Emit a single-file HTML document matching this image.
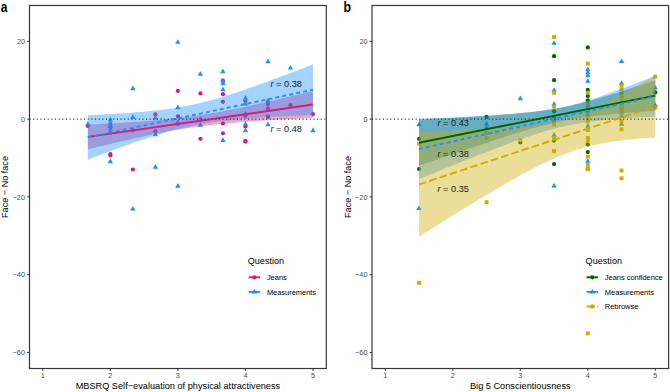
<!DOCTYPE html>
<html><head><meta charset="utf-8"><style>
html,body{margin:0;padding:0;background:#fff;}
body{width:670px;height:392px;overflow:hidden;}
svg{display:block;font-family:"Liberation Sans",sans-serif;}
</style></head><body>
<svg width="670" height="392" viewBox="0 0 670 392">
<rect width="670" height="392" fill="#fff"/>

<circle cx="87.83" cy="125.90" r="2.12" fill="#D61C76"/>
<circle cx="110.35" cy="126.80" r="2.12" fill="#D61C76"/>
<circle cx="110.35" cy="132.80" r="2.12" fill="#D61C76"/>
<circle cx="110.35" cy="154.10" r="2.12" fill="#D61C76"/>
<circle cx="110.35" cy="155.50" r="2.12" fill="#D61C76"/>
<circle cx="132.87" cy="130.10" r="2.12" fill="#D61C76"/>
<circle cx="132.87" cy="169.50" r="2.12" fill="#D61C76"/>
<circle cx="155.38" cy="114.40" r="2.12" fill="#D61C76"/>
<circle cx="155.38" cy="131.20" r="2.12" fill="#D61C76"/>
<circle cx="177.90" cy="90.90" r="2.12" fill="#D61C76"/>
<circle cx="177.90" cy="116.30" r="2.12" fill="#D61C76"/>
<circle cx="177.90" cy="123.80" r="2.12" fill="#D61C76"/>
<circle cx="200.42" cy="93.40" r="2.12" fill="#D61C76"/>
<circle cx="200.42" cy="138.80" r="2.12" fill="#D61C76"/>
<circle cx="222.93" cy="80.60" r="2.12" fill="#D61C76"/>
<circle cx="222.93" cy="94.20" r="2.12" fill="#D61C76"/>
<circle cx="222.93" cy="101.80" r="2.12" fill="#D61C76"/>
<circle cx="222.93" cy="123.50" r="2.12" fill="#D61C76"/>
<circle cx="222.93" cy="133.30" r="2.12" fill="#D61C76"/>
<circle cx="245.45" cy="101.00" r="2.12" fill="#D61C76"/>
<circle cx="245.45" cy="115.80" r="2.12" fill="#D61C76"/>
<circle cx="245.45" cy="126.50" r="2.12" fill="#D61C76"/>
<circle cx="245.45" cy="140.90" r="2.12" fill="#D61C76"/>
<circle cx="245.45" cy="141.70" r="2.12" fill="#D61C76"/>
<circle cx="267.97" cy="104.10" r="2.12" fill="#D61C76"/>
<circle cx="267.97" cy="108.60" r="2.12" fill="#D61C76"/>
<circle cx="267.97" cy="116.70" r="2.12" fill="#D61C76"/>
<circle cx="290.48" cy="105.20" r="2.12" fill="#D61C76"/>
<circle cx="313.00" cy="114.10" r="2.12" fill="#D61C76"/>
<path d="M87.83,121.19 L90.53,125.86 L85.14,125.86 Z" fill="#1E90FF"/>
<path d="M110.35,116.79 L113.04,121.46 L107.66,121.46 Z" fill="#1E90FF"/>
<path d="M110.35,120.09 L113.04,124.76 L107.66,124.76 Z" fill="#1E90FF"/>
<path d="M110.35,123.09 L113.04,127.76 L107.66,127.76 Z" fill="#1E90FF"/>
<path d="M110.35,126.09 L113.04,130.76 L107.66,130.76 Z" fill="#1E90FF"/>
<path d="M110.35,158.59 L113.04,163.26 L107.66,163.26 Z" fill="#1E90FF"/>
<path d="M132.87,85.59 L135.56,90.26 L130.17,90.26 Z" fill="#1E90FF"/>
<path d="M132.87,114.09 L135.56,118.76 L130.17,118.76 Z" fill="#1E90FF"/>
<path d="M132.87,205.89 L135.56,210.56 L130.17,210.56 Z" fill="#1E90FF"/>
<path d="M155.38,114.89 L158.08,119.56 L152.69,119.56 Z" fill="#1E90FF"/>
<path d="M155.38,131.59 L158.08,136.26 L152.69,136.26 Z" fill="#1E90FF"/>
<path d="M155.38,164.09 L158.08,168.76 L152.69,168.76 Z" fill="#1E90FF"/>
<path d="M177.90,39.19 L180.59,43.86 L175.21,43.86 Z" fill="#1E90FF"/>
<path d="M177.90,104.59 L180.59,109.26 L175.21,109.26 Z" fill="#1E90FF"/>
<path d="M177.90,119.09 L180.59,123.76 L175.21,123.76 Z" fill="#1E90FF"/>
<path d="M177.90,183.09 L180.59,187.76 L175.21,187.76 Z" fill="#1E90FF"/>
<path d="M200.42,71.09 L203.11,75.76 L197.72,75.76 Z" fill="#1E90FF"/>
<path d="M200.42,115.89 L203.11,120.56 L197.72,120.56 Z" fill="#1E90FF"/>
<path d="M200.42,122.09 L203.11,126.76 L197.72,126.76 Z" fill="#1E90FF"/>
<path d="M222.93,68.49 L225.63,73.16 L220.24,73.16 Z" fill="#1E90FF"/>
<path d="M222.93,78.09 L225.63,82.76 L220.24,82.76 Z" fill="#1E90FF"/>
<path d="M222.93,80.59 L225.63,85.26 L220.24,85.26 Z" fill="#1E90FF"/>
<path d="M222.93,86.59 L225.63,91.26 L220.24,91.26 Z" fill="#1E90FF"/>
<path d="M222.93,137.29 L225.63,141.96 L220.24,141.96 Z" fill="#1E90FF"/>
<path d="M245.45,95.09 L248.14,99.76 L242.76,99.76 Z" fill="#1E90FF"/>
<path d="M245.45,100.89 L248.14,105.56 L242.76,105.56 Z" fill="#1E90FF"/>
<path d="M245.45,110.79 L248.14,115.46 L242.76,115.46 Z" fill="#1E90FF"/>
<path d="M245.45,121.09 L248.14,125.76 L242.76,125.76 Z" fill="#1E90FF"/>
<path d="M245.45,127.59 L248.14,132.26 L242.76,132.26 Z" fill="#1E90FF"/>
<path d="M267.97,58.59 L270.66,63.26 L265.27,63.26 Z" fill="#1E90FF"/>
<path d="M267.97,97.79 L270.66,102.46 L265.27,102.46 Z" fill="#1E90FF"/>
<path d="M267.97,121.59 L270.66,126.26 L265.27,126.26 Z" fill="#1E90FF"/>
<path d="M290.48,64.89 L293.18,69.56 L287.79,69.56 Z" fill="#1E90FF"/>
<path d="M313.00,127.59 L315.69,132.26 L310.31,132.26 Z" fill="#1E90FF"/>
<path d="M87.83,124.61 L91.59,124.41 L95.34,124.21 L99.09,124.01 L102.84,123.81 L106.60,123.60 L110.35,123.39 L114.10,123.17 L117.86,122.95 L121.61,122.72 L125.36,122.49 L129.11,122.26 L132.87,122.01 L136.62,121.76 L140.37,121.50 L144.12,121.23 L147.88,120.95 L151.63,120.66 L155.38,120.36 L159.14,120.04 L162.89,119.70 L166.64,119.35 L170.39,118.98 L174.15,118.59 L177.90,118.18 L181.65,117.74 L185.41,117.28 L189.16,116.80 L192.91,116.28 L196.66,115.74 L200.42,115.18 L204.17,114.58 L207.92,113.96 L211.68,113.32 L215.43,112.65 L219.18,111.96 L222.93,111.24 L226.69,110.51 L230.44,109.77 L234.19,109.00 L237.94,108.23 L241.70,107.44 L245.45,106.64 L249.20,105.82 L252.96,105.00 L256.71,104.17 L260.46,103.34 L264.21,102.49 L267.97,101.64 L271.72,100.79 L275.47,99.93 L279.22,99.06 L282.98,98.19 L286.73,97.32 L290.48,96.44 L294.24,95.56 L297.99,94.68 L301.74,93.80 L305.49,92.91 L309.25,92.02 L313.00,91.13 L313.00,117.81 L309.25,117.99 L305.49,118.19 L301.74,118.38 L297.99,118.58 L294.24,118.77 L290.48,118.98 L286.73,119.18 L282.98,119.39 L279.22,119.60 L275.47,119.82 L271.72,120.04 L267.97,120.26 L264.21,120.50 L260.46,120.73 L256.71,120.98 L252.96,121.23 L249.20,121.49 L245.45,121.76 L241.70,122.04 L237.94,122.33 L234.19,122.63 L230.44,122.95 L226.69,123.28 L222.93,123.64 L219.18,124.01 L215.43,124.40 L211.68,124.81 L207.92,125.24 L204.17,125.70 L200.42,126.19 L196.66,126.70 L192.91,127.25 L189.16,127.81 L185.41,128.41 L181.65,129.03 L177.90,129.67 L174.15,130.34 L170.39,131.03 L166.64,131.74 L162.89,132.47 L159.14,133.22 L155.38,133.98 L151.63,134.76 L147.88,135.55 L144.12,136.35 L140.37,137.16 L136.62,137.99 L132.87,138.81 L129.11,139.65 L125.36,140.50 L121.61,141.35 L117.86,142.20 L114.10,143.06 L110.35,143.93 L106.60,144.80 L102.84,145.67 L99.09,146.54 L95.34,147.42 L91.59,148.31 L87.83,149.19 Z" fill="#D61C76" fill-opacity="0.4"/>
<path d="M87.83,115.15 L91.59,114.99 L95.34,114.81 L99.09,114.63 L102.84,114.44 L106.60,114.25 L110.35,114.05 L114.10,113.84 L117.86,113.62 L121.61,113.39 L125.36,113.14 L129.11,112.89 L132.87,112.62 L136.62,112.33 L140.37,112.03 L144.12,111.71 L147.88,111.37 L151.63,111.00 L155.38,110.61 L159.14,110.19 L162.89,109.74 L166.64,109.26 L170.39,108.73 L174.15,108.17 L177.90,107.57 L181.65,106.92 L185.41,106.23 L189.16,105.49 L192.91,104.70 L196.66,103.86 L200.42,102.97 L204.17,102.04 L207.92,101.06 L211.68,100.05 L215.43,98.99 L219.18,97.89 L222.93,96.76 L226.69,95.59 L230.44,94.40 L234.19,93.18 L237.94,91.94 L241.70,90.68 L245.45,89.40 L249.20,88.09 L252.96,86.78 L256.71,85.45 L260.46,84.10 L264.21,82.75 L267.97,81.38 L271.72,80.00 L275.47,78.62 L279.22,77.22 L282.98,75.82 L286.73,74.42 L290.48,73.00 L294.24,71.59 L297.99,70.16 L301.74,68.73 L305.49,67.30 L309.25,65.86 L313.00,64.42 L313.00,115.04 L309.25,115.19 L305.49,115.34 L301.74,115.50 L297.99,115.66 L294.24,115.83 L290.48,116.00 L286.73,116.17 L282.98,116.35 L279.22,116.54 L275.47,116.74 L271.72,116.94 L267.97,117.15 L264.21,117.38 L260.46,117.61 L256.71,117.85 L252.96,118.11 L249.20,118.38 L245.45,118.67 L241.70,118.98 L237.94,119.30 L234.19,119.65 L230.44,120.02 L226.69,120.42 L222.93,120.84 L219.18,121.30 L215.43,121.79 L211.68,122.32 L207.92,122.89 L204.17,123.50 L200.42,124.16 L196.66,124.86 L192.91,125.61 L189.16,126.41 L185.41,127.26 L181.65,128.16 L177.90,129.10 L174.15,130.08 L170.39,131.11 L166.64,132.18 L162.89,133.28 L159.14,134.42 L155.38,135.59 L151.63,136.79 L147.88,138.01 L144.12,139.26 L140.37,140.52 L136.62,141.81 L132.87,143.11 L129.11,144.43 L125.36,145.77 L121.61,147.11 L117.86,148.47 L114.10,149.84 L110.35,151.22 L106.60,152.61 L102.84,154.00 L99.09,155.40 L95.34,156.81 L91.59,158.23 L87.83,159.65 Z" fill="#1E90FF" fill-opacity="0.4"/>
<line x1="29.5" y1="119.1" x2="326" y2="119.1" stroke="#333" stroke-width="1.1" stroke-dasharray="1.1 2.54"/>
<path d="M87.83,136.90 L313.00,104.47" stroke="#D61C76" stroke-width="1.9" fill="none"/>
<path d="M87.83,137.40 L313.00,89.73" stroke="#1E90FF" stroke-width="1.9" fill="none" stroke-dasharray="3.9 3.2"/>
<circle cx="419.05" cy="138.80" r="2.12" fill="#006400"/>
<circle cx="419.05" cy="169.00" r="2.12" fill="#006400"/>
<circle cx="486.55" cy="116.90" r="2.12" fill="#006400"/>
<circle cx="520.30" cy="142.50" r="2.12" fill="#006400"/>
<circle cx="554.05" cy="56.20" r="2.12" fill="#006400"/>
<circle cx="554.05" cy="80.20" r="2.12" fill="#006400"/>
<circle cx="554.05" cy="111.30" r="2.12" fill="#006400"/>
<circle cx="554.05" cy="140.60" r="2.12" fill="#006400"/>
<circle cx="554.05" cy="164.10" r="2.12" fill="#006400"/>
<circle cx="554.05" cy="118.20" r="2.12" fill="#006400"/>
<circle cx="587.80" cy="47.40" r="2.12" fill="#006400"/>
<circle cx="587.80" cy="89.90" r="2.12" fill="#006400"/>
<circle cx="587.80" cy="96.00" r="2.12" fill="#006400"/>
<circle cx="587.80" cy="100.30" r="2.12" fill="#006400"/>
<circle cx="587.80" cy="144.40" r="2.12" fill="#006400"/>
<circle cx="587.80" cy="152.10" r="2.12" fill="#006400"/>
<circle cx="655.30" cy="92.40" r="2.12" fill="#006400"/>
<path d="M419.05,121.59 L421.74,126.26 L416.36,126.26 Z" fill="#1E90FF"/>
<path d="M419.05,205.39 L421.74,210.06 L416.36,210.06 Z" fill="#1E90FF"/>
<path d="M486.55,121.09 L489.24,125.76 L483.86,125.76 Z" fill="#1E90FF"/>
<path d="M486.55,124.59 L489.24,129.26 L483.86,129.26 Z" fill="#1E90FF"/>
<path d="M520.30,95.59 L522.99,100.26 L517.61,100.26 Z" fill="#1E90FF"/>
<path d="M554.05,40.19 L556.74,44.86 L551.36,44.86 Z" fill="#1E90FF"/>
<path d="M554.05,87.29 L556.74,91.96 L551.36,91.96 Z" fill="#1E90FF"/>
<path d="M554.05,101.09 L556.74,105.76 L551.36,105.76 Z" fill="#1E90FF"/>
<path d="M554.05,115.59 L556.74,120.26 L551.36,120.26 Z" fill="#1E90FF"/>
<path d="M554.05,132.09 L556.74,136.76 L551.36,136.76 Z" fill="#1E90FF"/>
<path d="M554.05,182.79 L556.74,187.46 L551.36,187.46 Z" fill="#1E90FF"/>
<path d="M587.80,66.49 L590.49,71.16 L585.11,71.16 Z" fill="#1E90FF"/>
<path d="M587.80,69.59 L590.49,74.26 L585.11,74.26 Z" fill="#1E90FF"/>
<path d="M587.80,72.59 L590.49,77.26 L585.11,77.26 Z" fill="#1E90FF"/>
<path d="M587.80,78.09 L590.49,82.76 L585.11,82.76 Z" fill="#1E90FF"/>
<path d="M587.80,108.09 L590.49,112.76 L585.11,112.76 Z" fill="#1E90FF"/>
<path d="M587.80,111.59 L590.49,116.26 L585.11,116.26 Z" fill="#1E90FF"/>
<path d="M587.80,123.09 L590.49,127.76 L585.11,127.76 Z" fill="#1E90FF"/>
<path d="M587.80,158.19 L590.49,162.86 L585.11,162.86 Z" fill="#1E90FF"/>
<path d="M587.80,165.09 L590.49,169.76 L585.11,169.76 Z" fill="#1E90FF"/>
<path d="M621.55,58.39 L624.24,63.06 L618.86,63.06 Z" fill="#1E90FF"/>
<path d="M621.55,80.29 L624.24,84.96 L618.86,84.96 Z" fill="#1E90FF"/>
<path d="M621.55,113.09 L624.24,117.76 L618.86,117.76 Z" fill="#1E90FF"/>
<path d="M621.55,121.09 L624.24,125.76 L618.86,125.76 Z" fill="#1E90FF"/>
<path d="M655.30,84.89 L657.99,89.56 L652.61,89.56 Z" fill="#1E90FF"/>
<path d="M655.30,102.19 L657.99,106.86 L652.61,106.86 Z" fill="#1E90FF"/>
<rect x="417.10" y="141.75" width="3.9" height="3.9" fill="#CDAD00"/>
<rect x="417.10" y="280.85" width="3.9" height="3.9" fill="#CDAD00"/>
<rect x="484.60" y="131.05" width="3.9" height="3.9" fill="#CDAD00"/>
<rect x="484.60" y="136.05" width="3.9" height="3.9" fill="#CDAD00"/>
<rect x="484.60" y="200.25" width="3.9" height="3.9" fill="#CDAD00"/>
<rect x="518.35" y="138.25" width="3.9" height="3.9" fill="#CDAD00"/>
<rect x="552.10" y="35.15" width="3.9" height="3.9" fill="#CDAD00"/>
<rect x="552.10" y="90.75" width="3.9" height="3.9" fill="#CDAD00"/>
<rect x="552.10" y="104.75" width="3.9" height="3.9" fill="#CDAD00"/>
<rect x="552.10" y="120.05" width="3.9" height="3.9" fill="#CDAD00"/>
<rect x="552.10" y="122.55" width="3.9" height="3.9" fill="#CDAD00"/>
<rect x="552.10" y="136.35" width="3.9" height="3.9" fill="#CDAD00"/>
<rect x="552.10" y="149.15" width="3.9" height="3.9" fill="#CDAD00"/>
<rect x="585.85" y="61.65" width="3.9" height="3.9" fill="#CDAD00"/>
<rect x="585.85" y="90.75" width="3.9" height="3.9" fill="#CDAD00"/>
<rect x="585.85" y="101.55" width="3.9" height="3.9" fill="#CDAD00"/>
<rect x="585.85" y="105.05" width="3.9" height="3.9" fill="#CDAD00"/>
<rect x="585.85" y="116.05" width="3.9" height="3.9" fill="#CDAD00"/>
<rect x="585.85" y="119.55" width="3.9" height="3.9" fill="#CDAD00"/>
<rect x="585.85" y="128.15" width="3.9" height="3.9" fill="#CDAD00"/>
<rect x="585.85" y="135.85" width="3.9" height="3.9" fill="#CDAD00"/>
<rect x="585.85" y="139.05" width="3.9" height="3.9" fill="#CDAD00"/>
<rect x="585.85" y="154.65" width="3.9" height="3.9" fill="#CDAD00"/>
<rect x="585.85" y="163.05" width="3.9" height="3.9" fill="#CDAD00"/>
<rect x="585.85" y="167.25" width="3.9" height="3.9" fill="#CDAD00"/>
<rect x="585.85" y="331.45" width="3.9" height="3.9" fill="#CDAD00"/>
<rect x="619.60" y="83.75" width="3.9" height="3.9" fill="#CDAD00"/>
<rect x="619.60" y="87.55" width="3.9" height="3.9" fill="#CDAD00"/>
<rect x="619.60" y="91.55" width="3.9" height="3.9" fill="#CDAD00"/>
<rect x="619.60" y="95.55" width="3.9" height="3.9" fill="#CDAD00"/>
<rect x="619.60" y="99.55" width="3.9" height="3.9" fill="#CDAD00"/>
<rect x="619.60" y="103.55" width="3.9" height="3.9" fill="#CDAD00"/>
<rect x="619.60" y="107.55" width="3.9" height="3.9" fill="#CDAD00"/>
<rect x="619.60" y="111.05" width="3.9" height="3.9" fill="#CDAD00"/>
<rect x="619.60" y="119.25" width="3.9" height="3.9" fill="#CDAD00"/>
<rect x="619.60" y="127.35" width="3.9" height="3.9" fill="#CDAD00"/>
<rect x="619.60" y="168.55" width="3.9" height="3.9" fill="#CDAD00"/>
<rect x="619.60" y="176.35" width="3.9" height="3.9" fill="#CDAD00"/>
<rect x="653.35" y="74.65" width="3.9" height="3.9" fill="#CDAD00"/>
<rect x="653.35" y="105.55" width="3.9" height="3.9" fill="#CDAD00"/>
<path d="M419.05,119.67 L422.99,119.46 L426.93,119.24 L430.86,119.03 L434.80,118.81 L438.74,118.59 L442.68,118.37 L446.61,118.14 L450.55,117.92 L454.49,117.69 L458.43,117.46 L462.36,117.22 L466.30,116.98 L470.24,116.74 L474.18,116.50 L478.11,116.24 L482.05,115.99 L485.99,115.73 L489.93,115.46 L493.86,115.19 L497.80,114.90 L501.74,114.61 L505.68,114.31 L509.61,114.00 L513.55,113.67 L517.49,113.33 L521.42,112.97 L525.36,112.59 L529.30,112.19 L533.24,111.76 L537.17,111.30 L541.11,110.81 L545.05,110.28 L548.99,109.72 L552.92,109.10 L556.86,108.44 L560.80,107.73 L564.74,106.96 L568.67,106.14 L572.61,105.27 L576.55,104.35 L580.49,103.38 L584.42,102.37 L588.36,101.32 L592.30,100.23 L596.24,99.11 L600.18,97.96 L604.11,96.78 L608.05,95.59 L611.99,94.37 L615.92,93.14 L619.86,91.89 L623.80,90.64 L627.74,89.37 L631.68,88.09 L635.61,86.80 L639.55,85.50 L643.49,84.20 L647.42,82.89 L651.36,81.57 L655.30,80.25 L655.30,111.00 L651.36,111.25 L647.42,111.50 L643.49,111.76 L639.55,112.03 L635.61,112.30 L631.68,112.58 L627.74,112.87 L623.80,113.17 L619.86,113.48 L615.92,113.80 L611.99,114.14 L608.05,114.49 L604.11,114.87 L600.18,115.26 L596.24,115.68 L592.30,116.13 L588.36,116.61 L584.42,117.13 L580.49,117.68 L576.55,118.28 L572.61,118.93 L568.67,119.63 L564.74,120.38 L560.80,121.18 L556.86,122.04 L552.92,122.95 L548.99,123.90 L545.05,124.90 L541.11,125.94 L537.17,127.02 L533.24,128.14 L529.30,129.28 L525.36,130.44 L521.42,131.63 L517.49,132.84 L513.55,134.07 L509.61,135.31 L505.68,136.57 L501.74,137.84 L497.80,139.11 L493.86,140.40 L489.93,141.69 L485.99,143.00 L482.05,144.30 L478.11,145.62 L474.18,146.94 L470.24,148.26 L466.30,149.59 L462.36,150.92 L458.43,152.25 L454.49,153.59 L450.55,154.93 L446.61,156.27 L442.68,157.62 L438.74,158.97 L434.80,160.32 L430.86,161.67 L426.93,163.02 L422.99,164.37 L419.05,165.73 Z" fill="#006400" fill-opacity="0.4"/>
<path d="M419.05,118.93 L422.99,118.78 L426.93,118.63 L430.86,118.47 L434.80,118.31 L438.74,118.15 L442.68,117.99 L446.61,117.82 L450.55,117.65 L454.49,117.47 L458.43,117.29 L462.36,117.10 L466.30,116.91 L470.24,116.72 L474.18,116.52 L478.11,116.31 L482.05,116.09 L485.99,115.87 L489.93,115.63 L493.86,115.39 L497.80,115.13 L501.74,114.86 L505.68,114.57 L509.61,114.27 L513.55,113.95 L517.49,113.61 L521.42,113.25 L525.36,112.85 L529.30,112.43 L533.24,111.98 L537.17,111.48 L541.11,110.95 L545.05,110.37 L548.99,109.74 L552.92,109.06 L556.86,108.32 L560.80,107.52 L564.74,106.66 L568.67,105.74 L572.61,104.76 L576.55,103.72 L580.49,102.63 L584.42,101.48 L588.36,100.29 L592.30,99.05 L596.24,97.77 L600.18,96.45 L604.11,95.10 L608.05,93.72 L611.99,92.32 L615.92,90.89 L619.86,89.45 L623.80,87.98 L627.74,86.50 L631.68,85.00 L635.61,83.50 L639.55,81.98 L643.49,80.45 L647.42,78.91 L651.36,77.36 L655.30,75.80 L655.30,116.50 L651.36,116.70 L647.42,116.92 L643.49,117.14 L639.55,117.37 L635.61,117.61 L631.68,117.87 L627.74,118.13 L623.80,118.41 L619.86,118.71 L615.92,119.02 L611.99,119.36 L608.05,119.72 L604.11,120.10 L600.18,120.51 L596.24,120.96 L592.30,121.44 L588.36,121.96 L584.42,122.53 L580.49,123.14 L576.55,123.81 L572.61,124.53 L568.67,125.31 L564.74,126.16 L560.80,127.06 L556.86,128.02 L552.92,129.04 L548.99,130.12 L545.05,131.26 L541.11,132.44 L537.17,133.67 L533.24,134.93 L529.30,136.24 L525.36,137.58 L521.42,138.95 L517.49,140.35 L513.55,141.77 L509.61,143.21 L505.68,144.67 L501.74,146.15 L497.80,147.64 L493.86,149.14 L489.93,150.66 L485.99,152.19 L482.05,153.72 L478.11,155.27 L474.18,156.82 L470.24,158.38 L466.30,159.95 L462.36,161.52 L458.43,163.09 L454.49,164.68 L450.55,166.26 L446.61,167.85 L442.68,169.44 L438.74,171.04 L434.80,172.64 L430.86,174.24 L426.93,175.85 L422.99,177.46 L419.05,179.07 Z" fill="#1E90FF" fill-opacity="0.4"/>
<path d="M419.05,132.16 L422.99,132.04 L426.93,131.91 L430.86,131.77 L434.80,131.63 L438.74,131.49 L442.68,131.35 L446.61,131.19 L450.55,131.04 L454.49,130.87 L458.43,130.70 L462.36,130.52 L466.30,130.34 L470.24,130.15 L474.18,129.94 L478.11,129.73 L482.05,129.51 L485.99,129.27 L489.93,129.02 L493.86,128.76 L497.80,128.48 L501.74,128.18 L505.68,127.86 L509.61,127.52 L513.55,127.16 L517.49,126.77 L521.42,126.35 L525.36,125.90 L529.30,125.40 L533.24,124.87 L537.17,124.29 L541.11,123.66 L545.05,122.97 L548.99,122.23 L552.92,121.41 L556.86,120.53 L560.80,119.56 L564.74,118.52 L568.67,117.38 L572.61,116.17 L576.55,114.86 L580.49,113.46 L584.42,111.98 L588.36,110.41 L592.30,108.76 L596.24,107.04 L600.18,105.24 L604.11,103.38 L608.05,101.45 L611.99,99.47 L615.92,97.45 L619.86,95.37 L623.80,93.26 L627.74,91.10 L631.68,88.92 L635.61,86.70 L639.55,84.46 L643.49,82.20 L647.42,79.91 L651.36,77.60 L655.30,75.28 L655.30,137.42 L651.36,137.70 L647.42,137.99 L643.49,138.31 L639.55,138.65 L635.61,139.01 L631.68,139.39 L627.74,139.81 L623.80,140.26 L619.86,140.74 L615.92,141.27 L611.99,141.84 L608.05,142.47 L604.11,143.14 L600.18,143.88 L596.24,144.69 L592.30,145.56 L588.36,146.52 L584.42,147.55 L580.49,148.67 L576.55,149.87 L572.61,151.17 L568.67,152.55 L564.74,154.02 L560.80,155.58 L556.86,157.22 L552.92,158.93 L548.99,160.72 L545.05,162.57 L541.11,164.49 L537.17,166.46 L533.24,168.48 L529.30,170.55 L525.36,172.66 L521.42,174.81 L517.49,176.99 L513.55,179.20 L509.61,181.44 L505.68,183.70 L501.74,185.98 L497.80,188.29 L493.86,190.61 L489.93,192.95 L485.99,195.30 L482.05,197.67 L478.11,200.04 L474.18,202.43 L470.24,204.83 L466.30,207.24 L462.36,209.66 L458.43,212.08 L454.49,214.51 L450.55,216.95 L446.61,219.40 L442.68,221.84 L438.74,224.30 L434.80,226.76 L430.86,229.22 L426.93,231.69 L422.99,234.16 L419.05,236.64 Z" fill="#CDAD00" fill-opacity="0.4"/>
<line x1="372" y1="119.1" x2="668.5" y2="119.1" stroke="#333" stroke-width="1.1" stroke-dasharray="1.1 2.54"/>
<path d="M419.05,142.70 L655.30,95.62" stroke="#006400" stroke-width="1.9" fill="none"/>
<path d="M419.05,149.00 L655.30,96.15" stroke="#1E90FF" stroke-width="1.9" fill="none" stroke-dasharray="3.9 3.2"/>
<path d="M419.05,184.40 L655.30,106.35" stroke="#CDAD00" stroke-width="1.9" fill="none" stroke-dasharray="7.5 3.3"/>
<text x="270.5" y="86.6" font-size="9.2" fill="#1a1a1a"><tspan font-style="italic">r</tspan> = 0.38</text>
<text x="270.5" y="131.8" font-size="9.2" fill="#1a1a1a"><tspan font-style="italic">r</tspan> = 0.48</text>
<text x="437.5" y="126.3" font-size="9.2" fill="#1a1a1a"><tspan font-style="italic">r</tspan> = 0.43</text>
<text x="437.5" y="156.5" font-size="9.2" fill="#1a1a1a"><tspan font-style="italic">r</tspan> = 0.38</text>
<text x="437.5" y="192.2" font-size="9.2" fill="#1a1a1a"><tspan font-style="italic">r</tspan> = 0.35</text>
<rect x="29.5" y="5.5" width="296.8" height="363.0" fill="none" stroke="#383838" stroke-width="1.2"/>
<rect x="372" y="5.5" width="296.6" height="363.0" fill="none" stroke="#383838" stroke-width="1.2"/>
<line x1="27.20" y1="41.3" x2="29.5" y2="41.3" stroke="#383838" stroke-width="1.1"/>
<text x="25.0" y="43.95" font-size="7.3" fill="#4D4D4D" text-anchor="end">20</text>
<line x1="27.20" y1="119.1" x2="29.5" y2="119.1" stroke="#383838" stroke-width="1.1"/>
<text x="25.0" y="121.75" font-size="7.3" fill="#4D4D4D" text-anchor="end">0</text>
<line x1="27.20" y1="196.9" x2="29.5" y2="196.9" stroke="#383838" stroke-width="1.1"/>
<text x="25.0" y="199.55" font-size="7.3" fill="#4D4D4D" text-anchor="end">−20</text>
<line x1="27.20" y1="274.7" x2="29.5" y2="274.7" stroke="#383838" stroke-width="1.1"/>
<text x="25.0" y="277.35" font-size="7.3" fill="#4D4D4D" text-anchor="end">−40</text>
<line x1="27.20" y1="352.5" x2="29.5" y2="352.5" stroke="#383838" stroke-width="1.1"/>
<text x="25.0" y="355.15" font-size="7.3" fill="#4D4D4D" text-anchor="end">−60</text>
<line x1="369.70" y1="41.3" x2="372.0" y2="41.3" stroke="#383838" stroke-width="1.1"/>
<text x="367.5" y="43.95" font-size="7.3" fill="#4D4D4D" text-anchor="end">20</text>
<line x1="369.70" y1="119.1" x2="372.0" y2="119.1" stroke="#383838" stroke-width="1.1"/>
<text x="367.5" y="121.75" font-size="7.3" fill="#4D4D4D" text-anchor="end">0</text>
<line x1="369.70" y1="196.9" x2="372.0" y2="196.9" stroke="#383838" stroke-width="1.1"/>
<text x="367.5" y="199.55" font-size="7.3" fill="#4D4D4D" text-anchor="end">−20</text>
<line x1="369.70" y1="274.7" x2="372.0" y2="274.7" stroke="#383838" stroke-width="1.1"/>
<text x="367.5" y="277.35" font-size="7.3" fill="#4D4D4D" text-anchor="end">−40</text>
<line x1="369.70" y1="352.5" x2="372.0" y2="352.5" stroke="#383838" stroke-width="1.1"/>
<text x="367.5" y="355.15" font-size="7.3" fill="#4D4D4D" text-anchor="end">−60</text>
<line x1="42.80" y1="368.5" x2="42.80" y2="370.8" stroke="#383838" stroke-width="1.1"/>
<text x="42.80" y="378.4" font-size="7.3" fill="#4D4D4D" text-anchor="middle">1</text>
<line x1="110.35" y1="368.5" x2="110.35" y2="370.8" stroke="#383838" stroke-width="1.1"/>
<text x="110.35" y="378.4" font-size="7.3" fill="#4D4D4D" text-anchor="middle">2</text>
<line x1="177.90" y1="368.5" x2="177.90" y2="370.8" stroke="#383838" stroke-width="1.1"/>
<text x="177.90" y="378.4" font-size="7.3" fill="#4D4D4D" text-anchor="middle">3</text>
<line x1="245.45" y1="368.5" x2="245.45" y2="370.8" stroke="#383838" stroke-width="1.1"/>
<text x="245.45" y="378.4" font-size="7.3" fill="#4D4D4D" text-anchor="middle">4</text>
<line x1="313.00" y1="368.5" x2="313.00" y2="370.8" stroke="#383838" stroke-width="1.1"/>
<text x="313.00" y="378.4" font-size="7.3" fill="#4D4D4D" text-anchor="middle">5</text>
<line x1="385.30" y1="368.5" x2="385.30" y2="370.8" stroke="#383838" stroke-width="1.1"/>
<text x="385.30" y="378.4" font-size="7.3" fill="#4D4D4D" text-anchor="middle">1</text>
<line x1="452.80" y1="368.5" x2="452.80" y2="370.8" stroke="#383838" stroke-width="1.1"/>
<text x="452.80" y="378.4" font-size="7.3" fill="#4D4D4D" text-anchor="middle">2</text>
<line x1="520.30" y1="368.5" x2="520.30" y2="370.8" stroke="#383838" stroke-width="1.1"/>
<text x="520.30" y="378.4" font-size="7.3" fill="#4D4D4D" text-anchor="middle">3</text>
<line x1="587.80" y1="368.5" x2="587.80" y2="370.8" stroke="#383838" stroke-width="1.1"/>
<text x="587.80" y="378.4" font-size="7.3" fill="#4D4D4D" text-anchor="middle">4</text>
<line x1="655.30" y1="368.5" x2="655.30" y2="370.8" stroke="#383838" stroke-width="1.1"/>
<text x="655.30" y="378.4" font-size="7.3" fill="#4D4D4D" text-anchor="middle">5</text>
<text x="177.9" y="388.8" font-size="9.2" fill="#000" text-anchor="middle">MBSRQ Self−evaluation of physical attractiveness</text>
<text x="520.3" y="388.8" font-size="9.2" fill="#000" text-anchor="middle">Big 5 Conscientiousness</text>
<text transform="translate(8.3,187) rotate(-90)" font-size="9.1" fill="#000" text-anchor="middle">Face − No face</text>
<text transform="translate(350.8,187) rotate(-90)" font-size="9.1" fill="#000" text-anchor="middle">Face − No face</text>
<text transform="translate(0.7,11.6) scale(0.86,1)" font-size="14" font-weight="bold" fill="#000">a</text>
<text transform="translate(343.5,11.6) scale(0.88,1)" font-size="14" font-weight="bold" fill="#000">b</text>
<text x="247.7" y="264.2" font-size="9.1" fill="#000">Question</text><line x1="248.60" y1="277.30" x2="260.20" y2="277.30" stroke="#D61C76" stroke-width="1.9"/><circle cx="254.40" cy="277.30" r="2.12" fill="#D61C76"/><text x="266.90" y="279.90" font-size="7.45" fill="#000">Jeans</text><line x1="248.60" y1="291.90" x2="260.20" y2="291.90" stroke="#1E90FF" stroke-width="1.9"/><path d="M254.40,288.79 L257.09,293.46 L251.71,293.46 Z" fill="#1E90FF"/><text x="266.90" y="294.50" font-size="7.45" fill="#000">Measurements</text>
<text x="585.6" y="264.2" font-size="9.1" fill="#000">Question</text><line x1="586.50" y1="277.30" x2="598.10" y2="277.30" stroke="#006400" stroke-width="1.9"/><circle cx="592.30" cy="277.30" r="2.12" fill="#006400"/><text x="604.80" y="279.90" font-size="7.45" fill="#000">Jeans confidence</text><line x1="586.50" y1="291.90" x2="598.10" y2="291.90" stroke="#1E90FF" stroke-width="1.9"/><path d="M592.30,288.79 L594.99,293.46 L589.61,293.46 Z" fill="#1E90FF"/><text x="604.80" y="294.50" font-size="7.45" fill="#000">Measurements</text><line x1="586.50" y1="306.50" x2="598.10" y2="306.50" stroke="#CDAD00" stroke-width="1.9" stroke-dasharray="8.4 2.2"/><rect x="590.35" y="304.55" width="3.9" height="3.9" fill="#CDAD00"/><text x="604.80" y="309.10" font-size="7.45" fill="#000">Rebrowse</text>
</svg>
</body></html>
